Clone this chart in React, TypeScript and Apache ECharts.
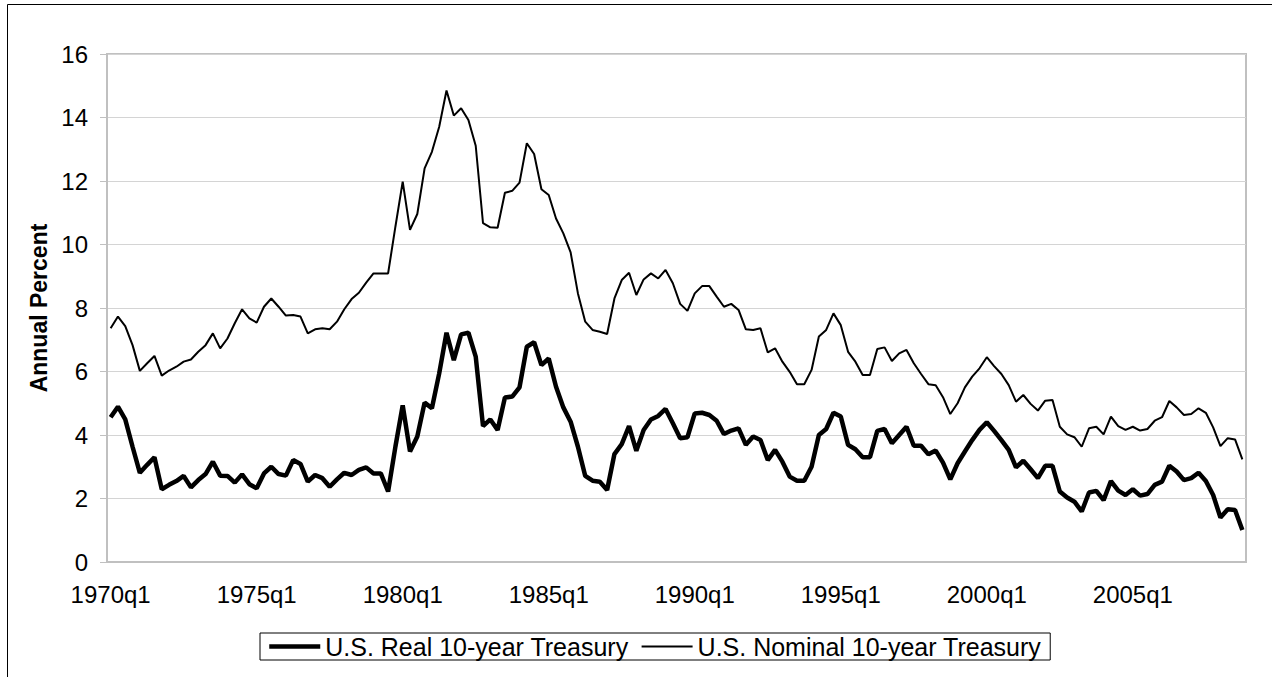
import React, { useEffect, useRef } from "react";
import * as echarts from "echarts";

const START_YEAR = 1970;
const QUARTER_COUNT = 156;
const quarters: string[] = [];
for (let k = 0; k < QUARTER_COUNT; k++) {
  quarters.push(`${START_YEAR + Math.floor(k / 4)}q${(k % 4) + 1}`);
}

const realYield = [
  4.56, 4.89, 4.49, 3.63, 2.81, 3.06, 3.30, 2.29, 2.43, 2.55,
  2.71, 2.35, 2.58, 2.77, 3.16, 2.72, 2.71, 2.50, 2.76, 2.45,
  2.32, 2.79, 3.00, 2.77, 2.72, 3.21, 3.09, 2.53, 2.74, 2.64,
  2.37, 2.60, 2.81, 2.74, 2.90, 2.98, 2.79, 2.79, 2.22, 3.63,
  4.93, 3.48, 3.95, 5.02, 4.84, 5.94, 7.22, 6.36, 7.17, 7.22,
  6.47, 4.28, 4.49, 4.16, 5.18, 5.21, 5.50, 6.78, 6.92, 6.20,
  6.41, 5.52, 4.87, 4.42, 3.63, 2.71, 2.56, 2.53, 2.27, 3.40,
  3.71, 4.28, 3.50, 4.16, 4.49, 4.60, 4.82, 4.37, 3.90, 3.93,
  4.68, 4.70, 4.63, 4.45, 4.03, 4.14, 4.21, 3.69, 3.95, 3.84,
  3.21, 3.53, 3.16, 2.69, 2.56, 2.56, 3.00, 4.00, 4.19, 4.70,
  4.58, 3.69, 3.55, 3.30, 3.30, 4.13, 4.19, 3.74, 4.00, 4.26,
  3.66, 3.66, 3.39, 3.51, 3.13, 2.60, 3.11, 3.48, 3.84, 4.16,
  4.40, 4.13, 3.84, 3.53, 2.98, 3.19, 2.92, 2.64, 3.03, 3.03,
  2.22, 2.03, 1.90, 1.59, 2.19, 2.24, 1.95, 2.55, 2.25, 2.11,
  2.29, 2.09, 2.14, 2.43, 2.53, 3.03, 2.85, 2.58, 2.64, 2.81,
  2.55, 2.11, 1.40, 1.66, 1.64, 1.01,
];

const nominalYield = [
  7.36, 7.73, 7.43, 6.83, 6.02, 6.26, 6.49, 5.87, 6.03, 6.15,
  6.31, 6.38, 6.62, 6.83, 7.20, 6.73, 7.04, 7.52, 7.96, 7.67,
  7.54, 8.04, 8.30, 8.04, 7.76, 7.78, 7.73, 7.20, 7.33, 7.36,
  7.33, 7.57, 7.96, 8.28, 8.48, 8.80, 9.09, 9.09, 9.09, 10.56,
  11.98, 10.46, 10.96, 12.40, 12.92, 13.71, 14.85, 14.06, 14.29, 13.92,
  13.11, 10.67, 10.54, 10.53, 11.63, 11.69, 11.95, 13.19, 12.85, 11.74,
  11.56, 10.82, 10.35, 9.75, 8.46, 7.57, 7.31, 7.25, 7.18, 8.30,
  8.88, 9.11, 8.41, 8.90, 9.09, 8.93, 9.20, 8.78, 8.13, 7.91,
  8.46, 8.69, 8.69, 8.36, 8.04, 8.13, 7.94, 7.33, 7.31, 7.36,
  6.60, 6.73, 6.31, 5.99, 5.60, 5.60, 6.05, 7.10, 7.31, 7.83,
  7.46, 6.62, 6.31, 5.89, 5.89, 6.71, 6.76, 6.33, 6.57, 6.68,
  6.26, 5.92, 5.60, 5.57, 5.19, 4.66, 5.00, 5.50, 5.84, 6.10,
  6.45, 6.17, 5.92, 5.57, 5.05, 5.26, 4.98, 4.77, 5.08, 5.10,
  4.26, 4.02, 3.93, 3.63, 4.21, 4.26, 4.02, 4.58, 4.28, 4.16,
  4.26, 4.14, 4.19, 4.45, 4.56, 5.07, 4.87, 4.63, 4.66, 4.84,
  4.70, 4.24, 3.65, 3.90, 3.86, 3.23,
];

const SERIES_NAMES = ["U.S. Real 10-year Treasury", "U.S. Nominal 10-year Treasury"];

const Y_MIN = 0;
const Y_MAX = 16;
const Y_STEP = 2;

const FONT = "'Liberation Sans', Arial, Helvetica, sans-serif";

export default function App() {
  const ref = useRef<HTMLDivElement>(null);

  useEffect(() => {
    if (!ref.current) return;
    const chart = echarts.init(ref.current, undefined, { renderer: "svg" });
    chart.setOption({
      animation: false,
      backgroundColor: "#ffffff",
      textStyle: { fontFamily: FONT, color: "#000" },
      graphic: [
        {
          type: "rect",
          silent: true,
          z: -10,
          shape: { x: 7.5, y: 4.5, width: 1300, height: 700 },
          style: { fill: "none", stroke: "#000", lineWidth: 1 },
        },
      ],
      grid: {
        left: 107,
        right: 26,
        top: 54,
        bottom: 115,
        show: true,
        borderColor: "#c0c0c0",
        borderWidth: 2,
        backgroundColor: "#fff",
      },
      legend: {
        left: 260,
        top: 633,
        padding: [1, 9, 1, 7],
        itemGap: 12,
        itemWidth: 51,
        itemHeight: 14,
        borderColor: "#000",
        borderWidth: 1,
        itemStyle: { opacity: 0 },
        textStyle: { fontFamily: FONT, fontSize: 25, color: "#000" },
        data: [
          { name: SERIES_NAMES[0], lineStyle: { width: 4.5, color: "#000" }, itemStyle: { opacity: 0 } },
          { name: SERIES_NAMES[1], lineStyle: { width: 2, color: "#000" }, itemStyle: { opacity: 0 } },
        ],
      },
      xAxis: {
        type: "category",
        data: quarters,
        boundaryGap: true,
        axisLine: { lineStyle: { color: "#c0c0c0", width: 2 } },
        axisTick: { interval: 3, length: 7, lineStyle: { color: "#c0c0c0", width: 1 } },
        axisLabel: {
          interval: 19,
          margin: 20,
          fontSize: 24,
          fontFamily: FONT,
          color: "#000",
        },
        splitLine: { show: false },
      },
      yAxis: {
        type: "value",
        min: Y_MIN,
        max: Y_MAX,
        interval: Y_STEP,
        name: "Annual Percent",
        nameLocation: "middle",
        nameGap: 57,
        nameTextStyle: { fontFamily: FONT, fontSize: 23, fontWeight: "bold", color: "#000" },
        axisLine: { show: true, lineStyle: { color: "#c0c0c0", width: 2 } },
        axisTick: { show: true, length: 7, lineStyle: { color: "#c0c0c0", width: 1 } },
        axisLabel: { margin: 19, fontSize: 24, fontFamily: FONT, color: "#000" },
        splitLine: { show: true, lineStyle: { color: "#d4d4d4", width: 1 } },
      },
      series: [
        {
          name: SERIES_NAMES[0],
          type: "line",
          data: realYield,
          symbol: "none",
          color: "#000",
          lineStyle: { color: "#000", width: 4.5 },
        },
        {
          name: SERIES_NAMES[1],
          type: "line",
          data: nominalYield,
          symbol: "none",
          color: "#000",
          lineStyle: { color: "#000", width: 2 },
        },
      ],
    });
    return () => chart.dispose();
  }, []);

  return (
    <div
      ref={ref}
      style={{ position: "absolute", left: 0, top: 0, width: 1272, height: 677 }}
    />
  );
}
